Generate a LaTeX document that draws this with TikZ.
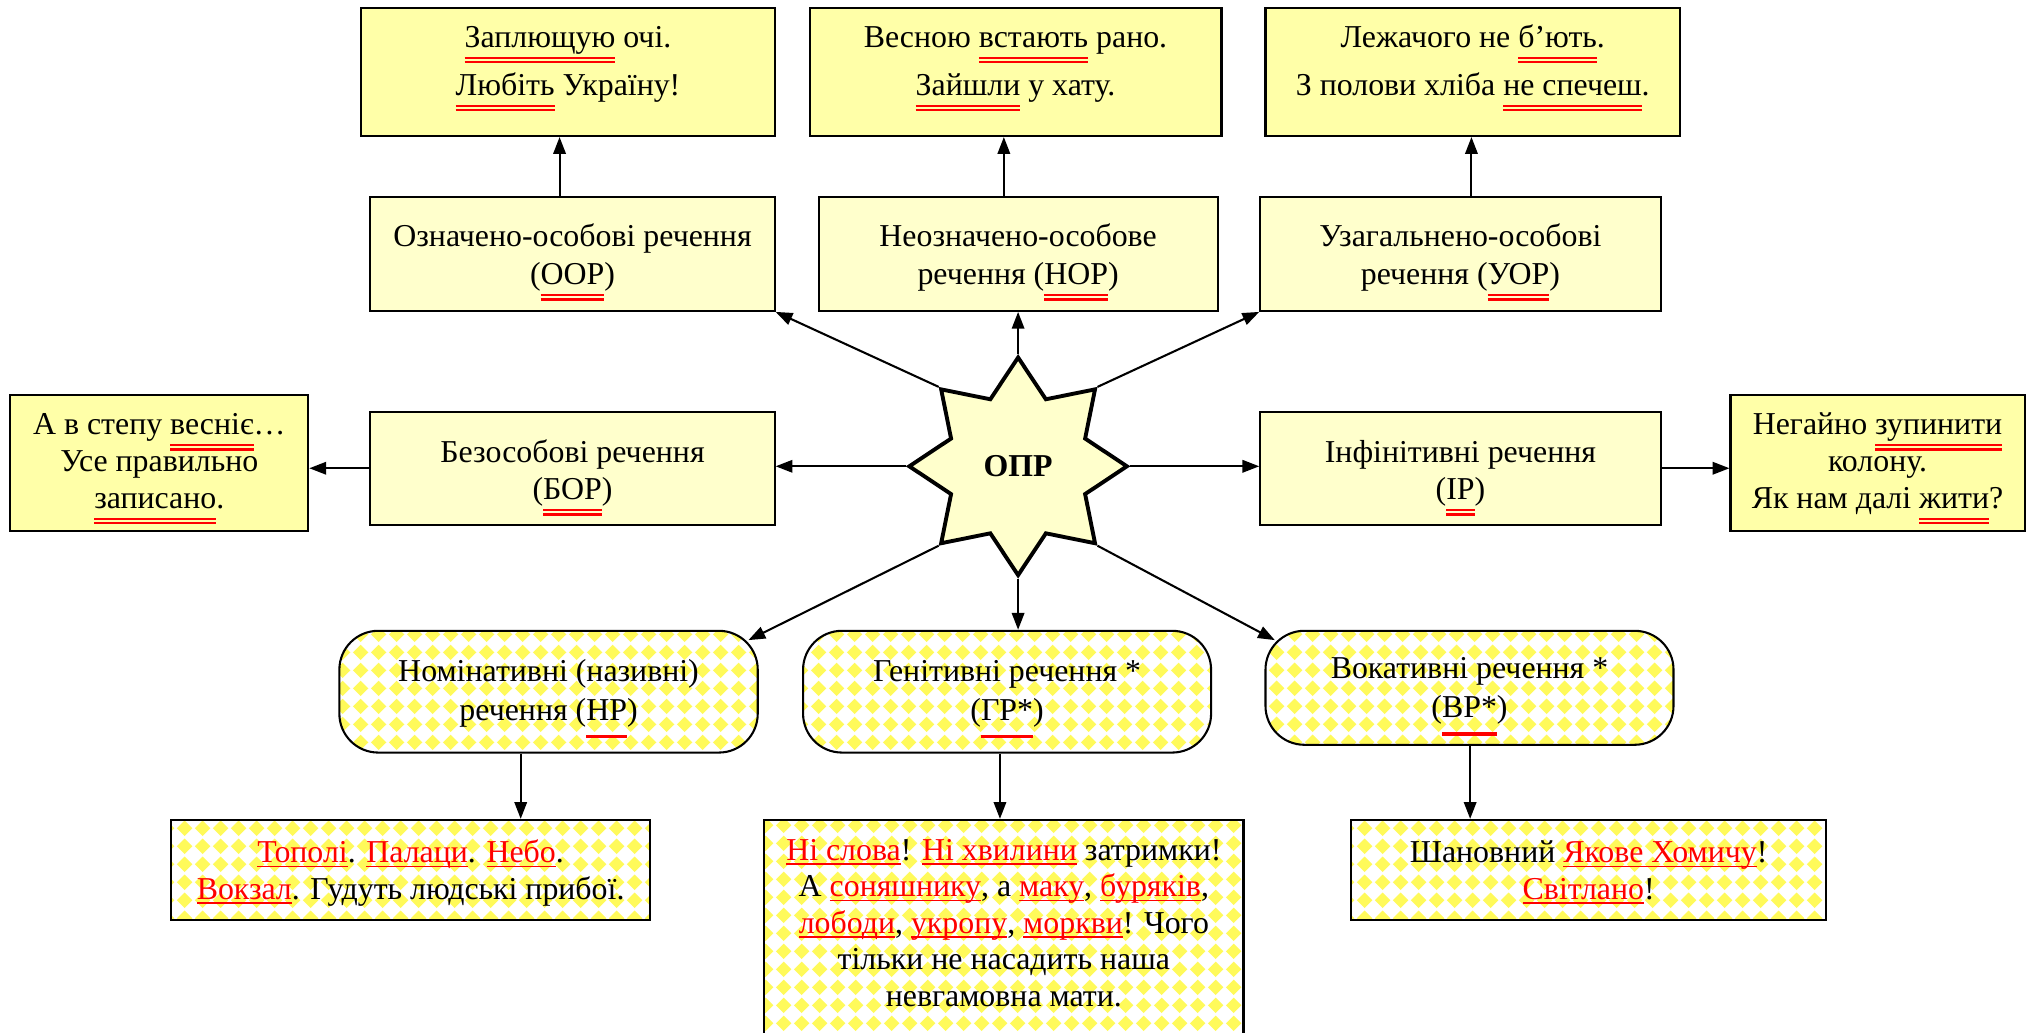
\documentclass[tikz,border=0pt]{standalone}
\usepackage{fontspec}
\setmainfont{Liberation Serif}
\usetikzlibrary{arrows.meta,shapes.geometric,patterns,calc}

\definecolor{exfill}{HTML}{FFFFA8}
\definecolor{catfill}{HTML}{FFFFCC}
\definecolor{diayellow}{HTML}{FFFA5A}
\definecolor{ulred}{HTML}{FF0000}

% white tile with one yellow diamond: a rotated checkerboard
\pgfdeclarepatterninherentlycolored{solid diamonds}
 {\pgfpointorigin}{\pgfpoint{6.8pt}{6.8pt}}{\pgfpoint{6.8pt}{6.8pt}}
 {
  \pgfsetfillcolor{white}
  \pgfpathrectangle{\pgfpointorigin}{\pgfpoint{6.8pt}{6.8pt}}
  \pgfusepath{fill}
  \pgfsetfillcolor{diayellow}
  \pgfpathmoveto{\pgfpoint{3.4pt}{0.35pt}}
  \pgfpathlineto{\pgfpoint{6.45pt}{3.4pt}}
  \pgfpathlineto{\pgfpoint{3.4pt}{6.45pt}}
  \pgfpathlineto{\pgfpoint{0.35pt}{3.4pt}}
  \pgfpathclose
  \pgfusepath{fill}
 }

% invisible struts that fix the top of the first line / bottom of the last line
\newcommand\hs[1]{\rule{0pt}{#1}}
\newcommand\ds[1]{\rule[-#1]{0pt}{0pt}}
% double red underline (predicate)
\newcommand\dul[1]{\leavevmode\sbox0{#1}%
  \rlap{\raisebox{0pt}[0pt][0pt]{\color{ulred}\rule[-4.4pt]{\wd0}{0.8pt}}}%
  \rlap{\raisebox{0pt}[0pt][0pt]{\color{ulred}\rule[-6pt]{\wd0}{0.8pt}}}\usebox0}
% single thick red underline
\newcommand\tul[1]{\leavevmode\sbox0{#1}%
  \rlap{\raisebox{0pt}[0pt][0pt]{\color{ulred}\rule[-7.1pt]{\wd0}{1.3pt}}}\usebox0}
% red underlined word
\newcommand\rw[1]{\leavevmode\sbox0{\textcolor{ulred}{#1}}%
  \rlap{\raisebox{0pt}[0pt][0pt]{\color{ulred}\rule[-1.7pt]{\wd0}{0.6pt}}}\usebox0}

\tikzset{
  basebox/.style={draw=black, line width=0.8pt, inner sep=0pt, align=center},
  exbox/.style={basebox, fill=exfill},
  catbox/.style={basebox, fill=catfill},
  dbox/.style={basebox, pattern=solid diamonds},
  rbox/.style={dbox, rounded corners=15pt},
  arr/.style={line width=0.8pt, -{Triangle[length=6.5pt,width=4.8pt]}},
}

\begin{document}
\begin{tikzpicture}[x=0.5pt,y=-0.5pt]
\clip (0,0) rectangle (1568,797);

% examples, top row
\begin{scope}[every node/.append style={font=\fontsize{12.3}{18.7}\selectfont}]
\node[exbox, minimum width=159.5pt, minimum height=49.5pt] (ex1) at (438.5,55.5)
  {\hs{9pt}\dul{Заплющую} очі.\\\dul{Любіть} Україну!\ds{9.3pt}};
\node[exbox, minimum width=159pt, minimum height=49.5pt] (ex2) at (784,55.5)
  {\hs{9pt}Весною \dul{встають} рано.\\\dul{Зайшли} у хату.\ds{9.3pt}};
\node[exbox, minimum width=160pt, minimum height=49.5pt] (ex3) at (1137,55.5)
  {\hs{9pt}Лежачого не \dul{б’ють}.\\З полови хліба \dul{не спечеш}.\ds{9.3pt}};
\end{scope}

% personal types
\begin{scope}[every node/.append style={font=\fontsize{12.3}{14.75}\selectfont}]
\node[catbox, minimum width=156pt, minimum height=44pt] (oor) at (442,196)
  {\hs{12.5pt}Означено-особові речення\\(\dul{ООР})\ds{3.25pt}};
\node[catbox, minimum width=154pt, minimum height=44pt] (nor) at (786,196)
  {\hs{12.5pt}Неозначено-особове\\речення (\dul{НОР})\ds{3.25pt}};
\node[catbox, minimum width=154.5pt, minimum height=44pt] (uor) at (1127.5,196)
  {\hs{12.5pt}Узагальнено-особові\\речення (\dul{УОР})\ds{3.25pt}};
\end{scope}

% middle row
\begin{scope}[every node/.append style={font=\fontsize{12.3}{14.2}\selectfont}]
\node[exbox, minimum width=115pt, minimum height=52.5pt] (ex4) at (123,357.5)
  {\hs{9.7pt}А в степу \dul{веснiє}…\\Усе правильно\\\dul{записано}.\ds{3pt}};
\node[exbox, minimum width=113.5pt, minimum height=52.5pt] (ex5) at (1449.5,357.5)
  {\hs{9.7pt}Негайно \dul{зупинити}\\колону.\\Як нам далі \dul{жити}?\ds{3pt}};
\end{scope}
\begin{scope}[every node/.append style={font=\fontsize{12.3}{14.5}\selectfont}]
\node[catbox, minimum width=156pt, minimum height=43.5pt] (bor) at (442,361.5)
  {\hs{13pt}Безособові речення\\(\dul{БОР})\ds{3pt}};
\node[catbox, minimum width=154.5pt, minimum height=43.5pt] (ir) at (1127.5,361.5)
  {\hs{13pt}Інфінітивні речення\\(\dul{ІР})\ds{3pt}};
\end{scope}

% centre
\node[star, star points=8, star point ratio=1.5, minimum size=84pt, inner sep=0pt,
      draw=black, line width=1.5pt, fill=catfill,
      font=\bfseries\fontsize{12.3}{14}\selectfont] (opr) at (786,360) {ОПР};

% one-member nominal types
\begin{scope}[every node/.append style={font=\fontsize{12.3}{14.8}\selectfont}]
\node[rbox, minimum width=161.5pt, minimum height=47pt] (nr) at (423.5,534)
  {\hs{10.1pt}Номінативні (називні)\\речення (\tul{НР})\ds{3pt}};
\node[rbox, minimum width=157.5pt, minimum height=47pt] (gr) at (777.5,534)
  {\hs{10.1pt}Генітивні речення *\\(\tul{ГР*})\ds{3pt}};
\node[rbox, minimum width=157.5pt, minimum height=44pt] (vr) at (1134.5,531)
  {\hs{10.9pt}Вокативні речення *\\(\tul{ВР*})\ds{3pt}};
\end{scope}

% examples, bottom row
\begin{scope}[every node/.append style={font=\fontsize{12.3}{14.1}\selectfont}]
\node[dbox, minimum width=185pt, minimum height=38.5pt] (ex6) at (317,671.5)
  {\hs{11.8pt}\rw{Тополі}. \rw{Палаци}. \rw{Небо}.\\\rw{Вокзал}. Гудуть людські прибої.\ds{3pt}};
\node[dbox, minimum width=185pt, minimum height=86pt] (ex7) at (775,719)
  {\hs{9.6pt}\rw{Ні слова}! \rw{Ні хвилини} затримки!\\А \rw{соняшнику}, а \rw{маку}, \rw{буряків},\\\rw{лободи}, \rw{укропу}, \rw{моркви}! Чого\\тільки не насадить наша\\невгамовна мати.\ds{8pt}};
\node[dbox, minimum width=183.5pt, minimum height=38.5pt] (ex8) at (1226.5,671.5)
  {\hs{11.8pt}Шановний \rw{Якове Хомичу}!\\\rw{Світлано}!\ds{3pt}};
\end{scope}

% connectors from the centre
\draw[arr] (opr.135) -- (oor.south east);
\draw[arr] (opr.90) -- (opr.90 |- nor.south);
\draw[arr] (opr.45) -- (uor.south west);
\draw[arr] (opr.180) -- (opr.180 -| bor.east);
\draw[arr] (opr.0) -- (opr.0 -| ir.west);
\draw[arr] (opr.225) -- ([shift={(-4pt,-4pt)}]nr.north east);
\draw[arr] (opr.270) -- (opr.270 |- gr.north);
\draw[arr] (opr.315) -- ([shift={(4pt,-4pt)}]vr.north west);

% connectors to the examples
\path ($(oor.north)+(-10,0)$) coordinate (t1)
      ($(nor.north)+(-11,0)$) coordinate (t2)
      ($(uor.north)+(8.5,0)$) coordinate (t3)
      ($(nr.south)+(-21.5,0)$) coordinate (t4)
      ($(gr.south)+(-5.5,0)$) coordinate (t5)
      ($(vr.south)+(0.5,0)$) coordinate (t6);
\draw[arr] (t1) -- (t1 |- ex1.south);
\draw[arr] (t2) -- (t2 |- ex2.south);
\draw[arr] (t3) -- (t3 |- ex3.south);
\draw[arr] (bor.west) -- (bor.west -| ex4.east);
\draw[arr] (ir.east) -- (ir.east -| ex5.west);
\draw[arr] (t4) -- (t4 |- ex6.north);
\draw[arr] (t5) -- (t5 |- ex7.north);
\draw[arr] (t6) -- (t6 |- ex8.north);
\end{tikzpicture}
\end{document}
